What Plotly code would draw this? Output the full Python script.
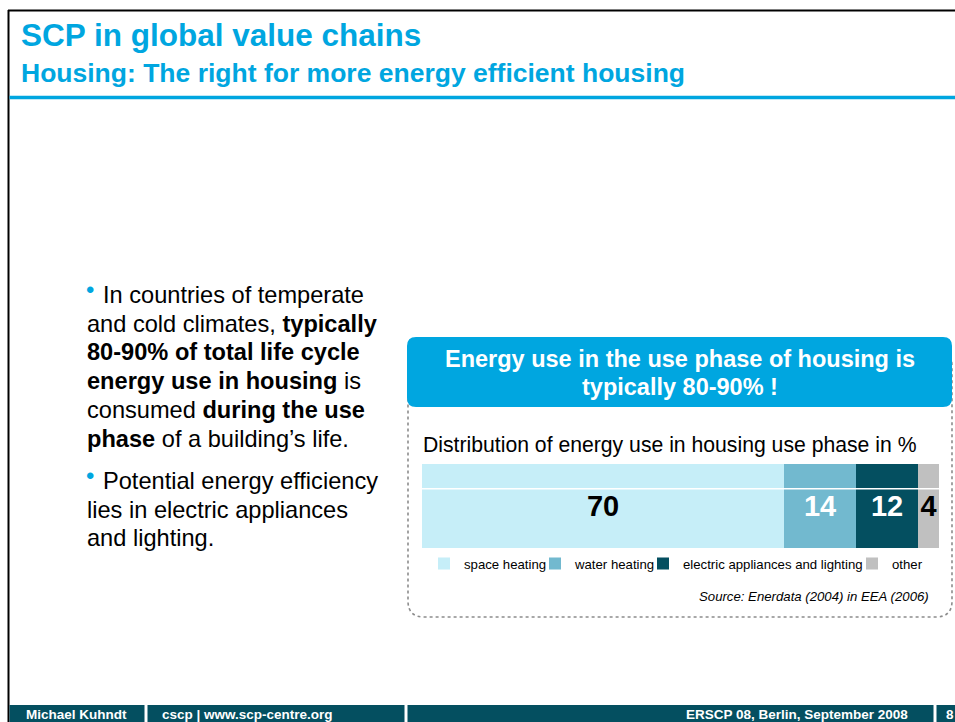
import plotly.graph_objects as go

# ---------------- data ----------------
categories = ["space heating", "water heating", "electric appliances and lighting", "other"]
shares = [70, 14, 12, 4]
bar_colors = ["#C6EEF8", "#72B9CF", "#044F60", "#C0C0C0"]
label_colors = ["#000000", "#FFFFFF", "#FFFFFF", "#000000"]

title = "SCP in global value chains"
subtitle = "Housing: The right for more energy efficient housing"
callout_lines = ["Energy use in the use phase of housing is", "typically 80-90% !"]
chart_title = "Distribution of energy use in housing use phase in %"
source = "Source: Enerdata (2004) in EEA (2006)"
bullet1 = [
    "In countries of temperate",
    "and cold climates, <b>typically</b>",
    "<b>80-90% of total life cycle</b>",
    "<b>energy use in housing</b> is",
    "consumed <b>during the use</b>",
    "<b>phase</b> of a building’s life.",
]
bullet2 = [
    "Potential energy efficiency",
    "lies in electric appliances",
    "and lighting.",
]
footer_texts = ["Michael Kuhndt", "cscp | www.scp-centre.org", "ERSCP 08, Berlin, September 2008", "8"]

# ---------------- layout helpers ----------------
W, H = 955, 722
F = "Liberation Sans, Arial, sans-serif"
BLUE = "#00A6E0"
TEAL = "#044F60"


def X(px):
    return px / W


def Y(py):
    return 1 - py / H


def rrect(x0, y0, x1, y1, r):
    return (f"M{X(x0+r)},{Y(y0)} L{X(x1-r)},{Y(y0)} Q{X(x1)},{Y(y0)} {X(x1)},{Y(y0+r)} "
            f"L{X(x1)},{Y(y1-r)} Q{X(x1)},{Y(y1)} {X(x1-r)},{Y(y1)} "
            f"L{X(x0+r)},{Y(y1)} Q{X(x0)},{Y(y1)} {X(x0)},{Y(y1-r)} "
            f"L{X(x0)},{Y(y0+r)} Q{X(x0)},{Y(y0)} {X(x0+r)},{Y(y0)} Z")


fig = go.Figure()

for i, (name, val, col, tcol) in enumerate(zip(categories, shares, bar_colors, label_colors)):
    fig.add_trace(go.Bar(
        y=[0], x=[val], width=[1], orientation="h", name=name,
        marker=dict(color=col, line=dict(width=0)),
        text=[val], texttemplate="<b>%{text}</b>",
        textposition="inside", insidetextanchor="middle", textangle=0,
        constraintext="none",
        textfont=dict(color=tcol, size=29, family=F),
        legend="legend" if i == 0 else f"legend{i+1}",
        hoverinfo="skip",
    ))

legend_left = [424, 535, 643, 852]
leg_common = dict(orientation="h", xanchor="left", y=Y(564), yanchor="middle",
                  font=dict(size=13.2, color="#000", family=F),
                  bgcolor="rgba(0,0,0,0)", borderwidth=0)
legends = {}
for i, xs in enumerate(legend_left):
    key = "legend" if i == 0 else f"legend{i+1}"
    legends[key] = dict(x=X(xs), **leg_common)

shapes = [
    # slide frame
    dict(type="line", xref="paper", yref="paper", x0=X(8), x1=X(960), y0=Y(10.5), y1=Y(10.5),
         line=dict(color="#000", width=2)),
    dict(type="line", xref="paper", yref="paper", x0=X(8.5), x1=X(8.5), y0=Y(10), y1=Y(730),
         line=dict(color="#000", width=2)),
    dict(type="line", xref="paper", yref="paper", x0=X(9.5), x1=X(960), y0=Y(97.5), y1=Y(97.5),
         line=dict(color=BLUE, width=3.5)),
    # footer
    dict(type="rect", xref="paper", yref="paper", x0=X(9.5), x1=X(960), y0=Y(705), y1=Y(730),
         fillcolor=TEAL, line=dict(width=0)),
    # dotted box and callout
    dict(type="path", xref="paper", yref="paper", path=rrect(408, 350, 952, 617, 16),
         line=dict(color="#8C8C8C", width=1.6, dash="dot"), fillcolor="rgba(0,0,0,0)"),
    dict(type="path", xref="paper", yref="paper", path=rrect(407, 337, 952, 407, 9),
         line=dict(width=0), fillcolor=BLUE),
    # white line across the bar
    dict(type="line", xref="x domain", yref="y domain", x0=0, x1=1, y0=0.704, y1=0.704,
         line=dict(color="#FFFFFF", width=1.5)),
]
for sx in [146, 406, 935]:
    shapes.append(dict(type="line", xref="paper", yref="paper", x0=X(sx), x1=X(sx), y0=Y(704), y1=Y(730),
                       line=dict(color="#FFFFFF", width=3)))

ann = []


def txt(text, x, y, size, color="#000", bold=False, xanchor="left", italic=False):
    t = f"<b>{text}</b>" if bold else text
    if italic:
        t = f"<i>{t}</i>"
    ann.append(dict(text=t, x=X(x), y=Y(y), xref="paper", yref="paper", xanchor=xanchor,
                    yanchor="middle", showarrow=False, align="left",
                    font=dict(size=size, color=color, family=F)))


txt(title, 19, 35, 31.5, BLUE, bold=True)
txt(subtitle, 19, 73, 26.5, BLUE, bold=True)
txt(callout_lines[0], 680, 359, 23.5, "#FFF", bold=True, xanchor="center")
txt(callout_lines[1], 680, 387, 23.5, "#FFF", bold=True, xanchor="center")
txt(chart_title, 421, 445, 21.2)
txt(source, 931, 596, 13.2, "#000", xanchor="right", italic=True)

base1 = [302, 330.7, 359.4, 388.1, 416.8, 445.5]
for j, (line, b) in enumerate(zip(bullet1, base1)):
    txt(line, 101 if j == 0 else 85, b - 7, 23.6)
base2 = [488, 516.7, 545.4]
for j, (line, b) in enumerate(zip(bullet2, base2)):
    txt(line, 101 if j == 0 else 85, b - 7, 23.6)
# bullet dots (raised towards cap height)
txt("•", 90, 289, 24, BLUE, xanchor="center")
txt("•", 90, 475, 24, BLUE, xanchor="center")

txt(footer_texts[0], 76, 714, 13.5, "#FFF", bold=True, xanchor="center")
txt(footer_texts[1], 160, 714, 13.5, "#FFF", bold=True)
txt(footer_texts[2], 910, 714, 13.5, "#FFF", bold=True, xanchor="right")
txt(footer_texts[3], 944, 714, 13.5, "#FFF", bold=True)

fig.update_layout(
    width=W, height=H, margin=dict(l=0, r=0, t=0, b=0),
    paper_bgcolor="#FFFFFF", plot_bgcolor="#FFFFFF",
    barmode="stack", bargap=0, showlegend=True,
    xaxis=dict(domain=[X(422), X(939)], range=[0, 100], visible=False, fixedrange=True),
    yaxis=dict(domain=[Y(548), Y(464)], range=[-0.5, 0.5], visible=False, fixedrange=True),
    shapes=shapes, annotations=ann,
    **legends,
)

fig.write_html("out.html", config={"displayModeBar": False},
               post_script="document.body.style.margin='0';document.body.style.overflow='hidden';")
